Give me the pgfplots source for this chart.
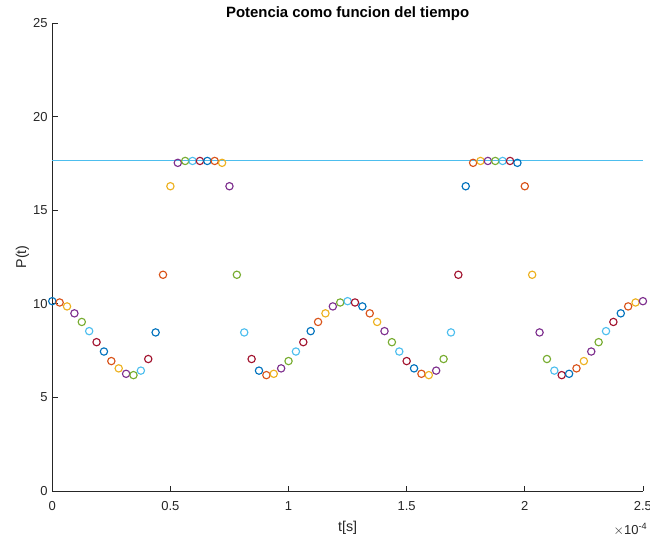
\documentclass[border=0pt]{standalone}
\usepackage{fontspec}
\setmainfont{Liberation Sans}
\usepackage{pgfplots}
\usepackage{pgfplotstable}
\pgfplotsset{compat=1.18}
\definecolor{mA}{rgb}{0,0.447,0.741}
\definecolor{mB}{rgb}{0.85,0.325,0.098}
\definecolor{mC}{rgb}{0.929,0.694,0.125}
\definecolor{mD}{rgb}{0.494,0.184,0.556}
\definecolor{mE}{rgb}{0.466,0.674,0.188}
\definecolor{mF}{rgb}{0.301,0.745,0.933}
\definecolor{mG}{rgb}{0.635,0.078,0.184}
\definecolor{axgray}{rgb}{0.15,0.15,0.15}
\pgfplotstableread{
t P c
0 10.14 a
0.03125 10.07 b
0.0625 9.86 c
0.09375 9.49 d
0.125 9.03 e
0.15625 8.54 f
0.1875 7.95 g
0.21875 7.45 a
0.25 6.94 b
0.28125 6.55 c
0.3125 6.26 d
0.34375 6.19 e
0.375 6.43 f
0.40625 7.05 g
0.4375 8.47 a
0.46875 11.55 b
0.5 16.28 c
0.53125 17.53 d
0.5625 17.63 e
0.59375 17.63 f
0.625 17.63 g
0.65625 17.63 a
0.6875 17.63 b
0.71875 17.53 c
0.75 16.28 d
0.78125 11.55 e
0.8125 8.47 f
0.84375 7.05 g
0.875 6.43 a
0.90625 6.19 b
0.9375 6.26 c
0.96875 6.55 d
1.0 6.94 e
1.03125 7.45 f
1.0625 7.95 g
1.09375 8.54 a
1.125 9.03 b
1.15625 9.49 c
1.1875 9.86 d
1.21875 10.07 e
1.25 10.14 f
1.28125 10.07 g
1.3125 9.86 a
1.34375 9.49 b
1.375 9.03 c
1.40625 8.54 d
1.4375 7.95 e
1.46875 7.45 f
1.5 6.94 g
1.53125 6.55 a
1.5625 6.26 b
1.59375 6.19 c
1.625 6.43 d
1.65625 7.05 e
1.6875 8.47 f
1.71875 11.55 g
1.75 16.28 a
1.78125 17.53 b
1.8125 17.63 c
1.84375 17.63 d
1.875 17.63 e
1.90625 17.63 f
1.9375 17.63 g
1.96875 17.53 a
2.0 16.28 b
2.03125 11.55 c
2.0625 8.47 d
2.09375 7.05 e
2.125 6.43 f
2.15625 6.19 g
2.1875 6.26 a
2.21875 6.55 b
2.25 6.94 c
2.28125 7.45 d
2.3125 7.95 e
2.34375 8.54 f
2.375 9.03 g
2.40625 9.49 a
2.4375 9.86 b
2.46875 10.07 c
2.5 10.14 d
}\datatable
\begin{document}
\begin{tikzpicture}
\begin{axis}[
  name=ax,
  scale only axis,
  width=443pt, height=351pt,
  xmin=0, xmax=2.5, ymin=0, ymax=25,
  clip=false,
  axis x line*=bottom, axis y line*=left,
  axis line style={axgray, line width=0.5pt, -},
  tick style={axgray, line width=0.5pt},
  tick align=inside,
  major tick length=4pt,
  xtick={0,0.5,1,1.5,2,2.5},
  xticklabels={0,0.5,1,1.5,2,2.5},
  ytick={0,5,10,15,20,25},
  yticklabels={0,5,10,15,20,25},
  ticklabel style={font=\fontsize{9.75}{11}\selectfont, text=axgray},
  xticklabel style={yshift=-4.5pt},
  title={Potencia como funcion del tiempo},
  title style={font=\fontsize{11.2}{13}\selectfont\bfseries, at={(axis description cs:0.5,1)}, anchor=base, yshift=-2.2pt},
  xlabel={t[s]},
  xlabel style={font=\fontsize{10.7}{12}\selectfont, text=axgray, at={(axis description cs:0.5,0)}, anchor=base, yshift=-30.5pt},
  ylabel={P(t)},
  ylabel style={font=\fontsize{10.7}{12}\selectfont, text=axgray, at={(axis description cs:-0.0505,0.5)}, anchor=center},
  mark size=2.75pt,
]
\addplot[mF, line width=0.6pt] coordinates {(0,17.65) (2.5,17.65)};
\addplot[scatter, only marks, scatter src=explicit symbolic,
  scatter/classes={
    a={mark=o, draw=mA, line width=0.85pt},
    b={mark=o, draw=mB, line width=0.85pt},
    c={mark=o, draw=mC, line width=0.85pt},
    d={mark=o, draw=mD, line width=0.85pt},
    e={mark=o, draw=mE, line width=0.85pt},
    f={mark=o, draw=mF, line width=0.85pt},
    g={mark=o, draw=mG, line width=0.85pt}}]
  table[x=t, y=P, meta=c] {\datatable};
\node[anchor=base east, font=\fontsize{9.75}{11}\selectfont, text=axgray, inner sep=0pt] at ([xshift=3.5pt,yshift=-32.5pt]axis description cs:1,0) {$\times$10\textsuperscript{-4}};
\end{axis}
\pgfresetboundingbox
\useasboundingbox ([xshift=-39.2pt,yshift=-35pt]ax.south west) rectangle ([xshift=5.3pt,yshift=17.25pt]ax.north east);
\end{tikzpicture}
\end{document}
